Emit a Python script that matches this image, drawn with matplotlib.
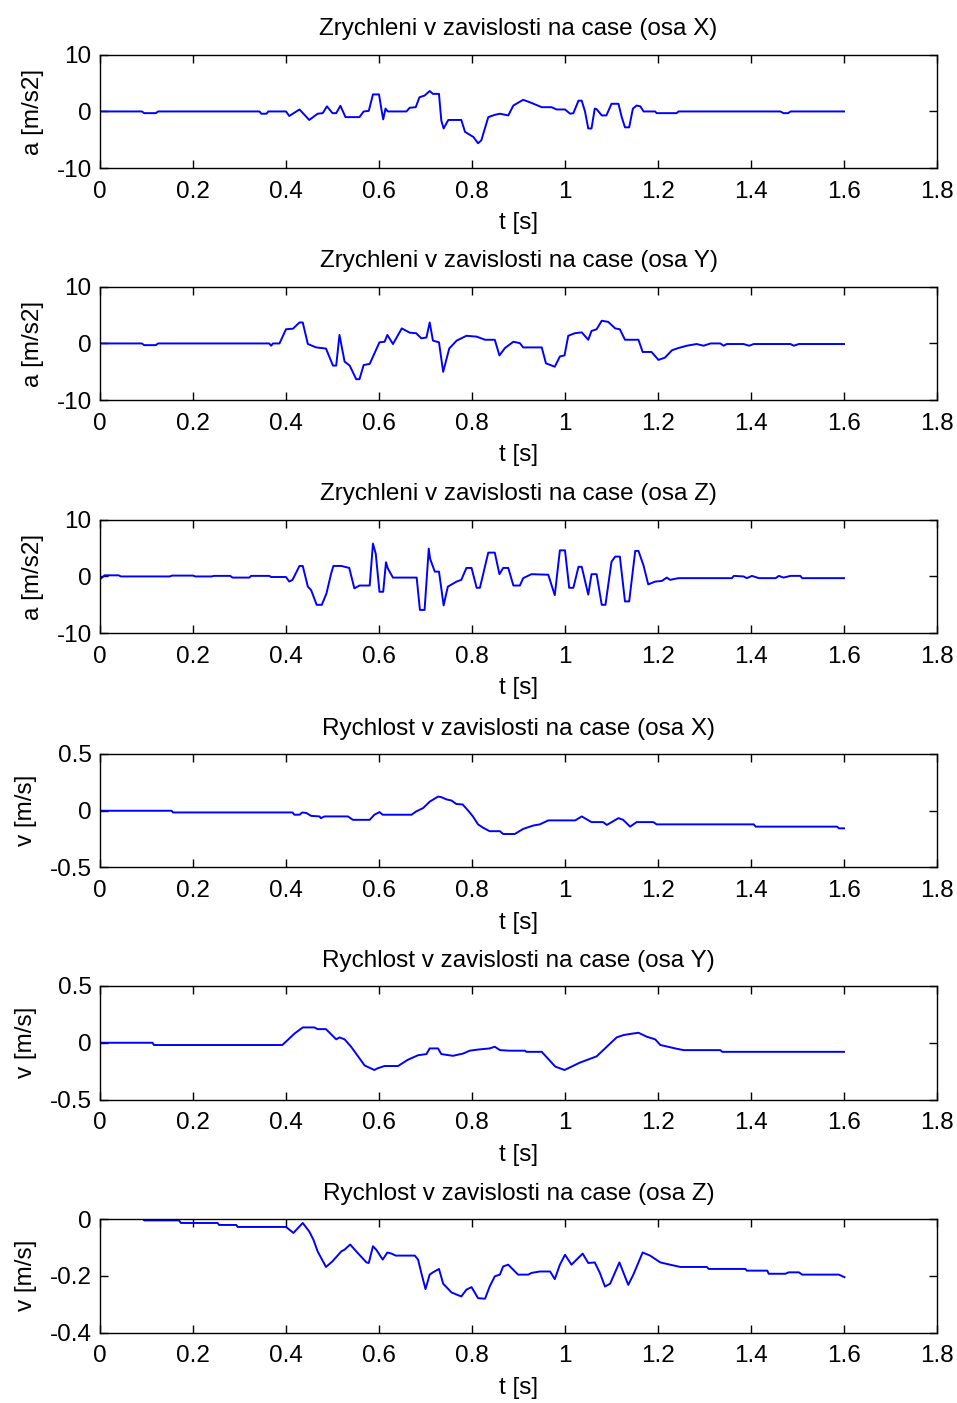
import matplotlib
matplotlib.use("Agg")
import matplotlib.pyplot as plt

plt.rcParams['font.family'] = ['Liberation Sans', 'DejaVu Sans']
plt.rcParams['axes.unicode_minus'] = False

# ---- acceleration, axis X ----
t_ax = [0, 0.09, 0.095, 0.12, 0.125, 0.343, 0.347, 0.358, 0.362, 0.400, 0.407, 0.429, 0.450, 0.468,
        0.479, 0.488, 0.500, 0.508, 0.517, 0.528, 0.558, 0.567, 0.578, 0.587, 0.600, 0.605, 0.609,
        0.614, 0.619, 0.659, 0.666, 0.679, 0.687, 0.698, 0.709, 0.716, 0.729, 0.734, 0.739, 0.749,
        0.777, 0.785, 0.803, 0.813, 0.820, 0.835, 0.849, 0.860, 0.878, 0.889, 0.910, 0.925, 0.950,
        0.971, 0.982, 1.000, 1.011, 1.018, 1.029, 1.036, 1.043, 1.050, 1.057, 1.064, 1.068, 1.079,
        1.089, 1.100, 1.115, 1.122, 1.129, 1.138, 1.146, 1.154, 1.162, 1.169, 1.194, 1.197, 1.240,
        1.244, 1.463, 1.470, 1.480, 1.485, 1.600]
a_x = [0, 0, -0.3, -0.3, 0, 0, -0.4, -0.4, 0, 0, -0.8, 0.35, -1.5, -0.4,
       -0.3, 0.9, -0.3, -0.3, 1.0, -1.0, -1.0, 0, 0.1, 3.0, 3.0, 0.5, -1.4,
       0.5, 0, 0, 0.65, 0.75, 2.5, 2.8, 3.6, 3.1, 3.1, -1.6, -3.0, -1.5,
       -1.5, -3.6, -4.5, -5.6, -5.1, -1.0, -0.6, -0.4, -0.7, 1.05, 2.05, 1.6, 0.75,
       0.75, 0.35, 0.35, -0.4, -0.3, 1.9, 1.9, 0.0, -3.0, -3.0, 0.5, 0.4, -0.7,
       -0.7, 1.35, 1.35, -1.0, -2.8, -2.8, 0.5, 1.05, 0.9, 0, 0, -0.3, -0.3,
       0, 0, -0.3, -0.3, 0, 0]

# ---- acceleration, axis Y ----
t_ay = [0, 0.09, 0.095, 0.12, 0.125, 0.364, 0.368, 0.372, 0.386, 0.400, 0.415, 0.429, 0.436, 0.447,
        0.465, 0.486, 0.501, 0.508, 0.515, 0.526, 0.537, 0.551, 0.558, 0.567, 0.580, 0.601, 0.612,
        0.618, 0.630, 0.649, 0.666, 0.680, 0.691, 0.702, 0.709, 0.716, 0.729, 0.738, 0.751, 0.767,
        0.788, 0.810, 0.828, 0.849, 0.859, 0.871, 0.889, 0.903, 0.910, 0.950, 0.959, 0.978, 0.989,
        0.999, 1.007, 1.021, 1.036, 1.050, 1.057, 1.068, 1.079, 1.093, 1.108, 1.118, 1.129, 1.158,
        1.167, 1.186, 1.201, 1.215, 1.230, 1.244, 1.262, 1.283, 1.298, 1.313, 1.334, 1.341, 1.348,
        1.384, 1.396, 1.406, 1.485, 1.492, 1.503, 1.600]
a_y = [0, 0, -0.3, -0.3, 0, 0, -0.4, 0, 0, 2.5, 2.6, 3.7, 3.7, -0.1,
       -0.7, -0.9, -3.9, -3.9, 1.5, -3.2, -3.9, -6.3, -6.3, -3.8, -3.6, 0.2, 0.3,
       1.5, -0.1, 2.65, 1.9, 1.8, 0.9, 1.05, 3.7, 0.5, 0.2, -5.0, -0.9, 0.5,
       1.35, 1.2, 0.65, 0.65, -2.1, -0.8, 0.3, 0.05, -0.7, -0.7, -3.5, -4.1, -2.3,
       -2.1, 1.35, 1.8, 1.95, 0.65, 2.2, 2.5, 4.0, 3.8, 2.65, 2.5, 0.65, 0.65,
       -1.5, -1.5, -2.9, -2.5, -1.2, -0.8, -0.4, -0.1, -0.4, 0, 0, -0.4, -0.1,
       -0.1, -0.4, -0.1, -0.1, -0.4, -0.1, -0.1]

# ---- acceleration, axis Z ----
t_az = [0, 0.01, 0.04, 0.045, 0.15, 0.155, 0.2, 0.205, 0.24, 0.245, 0.28, 0.285, 0.321, 0.325,
        0.364, 0.368, 0.400, 0.407, 0.414, 0.429, 0.436, 0.447, 0.454, 0.466, 0.477, 0.487, 0.497,
        0.502, 0.519, 0.536, 0.547, 0.558, 0.580, 0.587, 0.593, 0.601, 0.609, 0.615, 0.619, 0.630,
        0.681, 0.688, 0.698, 0.707, 0.710, 0.720, 0.729, 0.739, 0.748, 0.767, 0.777, 0.788, 0.799,
        0.810, 0.817, 0.835, 0.849, 0.859, 0.867, 0.878, 0.889, 0.903, 0.910, 0.928, 0.964, 0.978,
        0.989, 1.000, 1.009, 1.018, 1.029, 1.036, 1.050, 1.057, 1.068, 1.079, 1.087, 1.100, 1.108,
        1.118, 1.129, 1.138, 1.151, 1.158, 1.169, 1.179, 1.194, 1.208, 1.219, 1.226, 1.244, 1.359,
        1.363, 1.384, 1.391, 1.402, 1.417, 1.453, 1.460, 1.470, 1.485, 1.506, 1.510, 1.600]
a_z = [-0.5, 0.2, 0.2, 0, 0, 0.15, 0.15, 0, 0, 0.1, 0.1, -0.2, -0.2, 0.1,
       0.1, -0.1, -0.1, -0.9, -0.6, 1.85, 1.85, -1.8, -2.4, -5.0, -5.0, -3.0, 0.5,
       1.85, 1.85, 1.5, -2.1, -1.6, -1.6, 5.8, 4.0, -2.7, -2.7, 2.5, 1.4, -0.2,
       -0.2, -5.9, -5.9, 4.9, 3.1, 0.85, 0.85, -5.1, -1.8, -0.9, -0.6, 1.5, 1.5,
       -2.0, -2.0, 4.2, 4.2, 0.4, 1.5, 1.5, -1.6, -1.6, -0.3, 0.4, 0.3, -3.3,
       4.6, 4.6, -2.0, -2.0, 1.7, 1.7, -3.2, 0.4, 0.4, -5.0, -5.0, 2.6, 3.5,
       3.5, -4.4, -4.4, 4.5, 4.5, 1.9, -1.4, -0.9, -0.8, -0.2, -0.6, -0.3, -0.3,
       0.1, 0.0, -0.3, 0.1, -0.3, -0.3, 0.1, -0.2, 0.1, 0.1, -0.3, -0.3]

# ---- velocity, axis X ----
t_vx = [0, 0.154, 0.157, 0.414, 0.418, 0.429, 0.435, 0.444, 0.454, 0.472, 0.475, 0.483, 0.533,
        0.544, 0.580, 0.590, 0.601, 0.608, 0.670, 0.680, 0.695, 0.709, 0.727, 0.734, 0.745, 0.756,
        0.766, 0.780, 0.792, 0.802, 0.813, 0.824, 0.838, 0.860, 0.867, 0.892, 0.910, 0.932, 0.946,
        0.964, 1.022, 1.036, 1.057, 1.082, 1.090, 1.115, 1.125, 1.140, 1.154, 1.190, 1.197, 1.406,
        1.410, 1.585, 1.589, 1.600]
v_x = [0, 0, -0.015, -0.015, -0.035, -0.035, -0.015, -0.02, -0.045, -0.05, -0.065, -0.05, -0.05,
       -0.08, -0.08, -0.035, -0.012, -0.035, -0.035, -0.006, 0.024, 0.08, 0.125, 0.12, 0.1, 0.09,
       0.06, 0.055, 0, -0.05, -0.12, -0.15, -0.18, -0.18, -0.205, -0.205, -0.16, -0.13, -0.12,
       -0.085, -0.085, -0.05, -0.1, -0.1, -0.125, -0.065, -0.08, -0.14, -0.1, -0.1, -0.12, -0.12,
       -0.14, -0.14, -0.155, -0.155]

# ---- velocity, axis Y ----
t_vy = [0, 0.113, 0.116, 0.392, 0.400, 0.418, 0.436, 0.461, 0.468, 0.486, 0.508, 0.515, 0.526,
        0.540, 0.555, 0.569, 0.590, 0.597, 0.612, 0.641, 0.662, 0.684, 0.702, 0.709, 0.727, 0.734,
        0.759, 0.781, 0.795, 0.813, 0.838, 0.849, 0.860, 0.881, 0.914, 0.917, 0.950, 0.979, 0.999,
        1.032, 1.068, 1.111, 1.126, 1.144, 1.158, 1.176, 1.194, 1.205, 1.216, 1.237, 1.255, 1.334,
        1.338, 1.600]
v_y = [0, 0, -0.02, -0.02, 0.01, 0.08, 0.135, 0.135, 0.12, 0.12, 0.03, 0.047, 0.03,
       -0.035, -0.12, -0.2, -0.24, -0.225, -0.205, -0.205, -0.15, -0.11, -0.1, -0.05, -0.05, -0.1,
       -0.115, -0.095, -0.07, -0.06, -0.05, -0.035, -0.065, -0.07, -0.07, -0.08, -0.08, -0.21, -0.24,
       -0.175, -0.12, 0.047, 0.068, 0.08, 0.088, 0.053, 0.03, -0.02, -0.03, -0.05, -0.065, -0.065,
       -0.08, -0.08]

# ---- velocity, axis Z ----
t_vz = [0, 0.09, 0.095, 0.170, 0.174, 0.253, 0.256, 0.293, 0.296, 0.400, 0.416, 0.436, 0.450,
        0.459, 0.468, 0.486, 0.500, 0.519, 0.526, 0.538, 0.551, 0.573, 0.578, 0.587, 0.594, 0.608,
        0.618, 0.627, 0.636, 0.677, 0.684, 0.691, 0.700, 0.709, 0.716, 0.729, 0.738, 0.756, 0.777,
        0.788, 0.799, 0.813, 0.828, 0.838, 0.849, 0.860, 0.867, 0.878, 0.899, 0.921, 0.928, 0.946,
        0.968, 0.978, 0.989, 1.000, 1.014, 1.038, 1.050, 1.064, 1.075, 1.086, 1.097, 1.117, 1.136,
        1.147, 1.167, 1.183, 1.205, 1.226, 1.248, 1.305, 1.309, 1.388, 1.391, 1.435, 1.438, 1.474,
        1.481, 1.503, 1.510, 1.589, 1.601]
v_z = [0.004, 0.004, -0.005, -0.005, -0.014, -0.014, -0.021, -0.021, -0.028, -0.028, -0.049, -0.014, -0.044,
       -0.073, -0.114, -0.169, -0.149, -0.114, -0.108, -0.09, -0.114, -0.153, -0.155, -0.096, -0.108, -0.143,
       -0.118, -0.122, -0.129, -0.129, -0.143, -0.19, -0.247, -0.196, -0.188, -0.176, -0.228, -0.259, -0.273,
       -0.249, -0.24, -0.279, -0.281, -0.238, -0.202, -0.196, -0.167, -0.161, -0.196, -0.196, -0.19, -0.185,
       -0.185, -0.212, -0.161, -0.126, -0.161, -0.122, -0.155, -0.153, -0.19, -0.238, -0.228, -0.153, -0.232,
       -0.196, -0.118, -0.129, -0.153, -0.161, -0.169, -0.169, -0.176, -0.176, -0.182, -0.182, -0.193, -0.193,
       -0.188, -0.188, -0.196, -0.196, -0.205]

x_ticks = [0, 0.2, 0.4, 0.6, 0.8, 1.0, 1.2, 1.4, 1.6, 1.8]
x_tick_labels = ['0', '0.2', '0.4', '0.6', '0.8', '1', '1.2', '1.4', '1.6', '1.8']

titles = [
    'Zrychleni v zavislosti na case (osa X)',
    'Zrychleni v zavislosti na case (osa Y)',
    'Zrychleni v zavislosti na case (osa Z)',
    'Rychlost v zavislosti na case (osa X)',
    'Rychlost v zavislosti na case (osa Y)',
    'Rychlost v zavislosti na case (osa Z)',
]
y_labels = ['a [m/s2]', 'a [m/s2]', 'a [m/s2]', 'v [m/s]', 'v [m/s]', 'v [m/s]']
y_limits = [(-10, 10), (-10, 10), (-10, 10), (-0.5, 0.5), (-0.5, 0.5), (-0.4, 0)]
y_ticks = [[-10, 0, 10], [-10, 0, 10], [-10, 0, 10], [-0.5, 0, 0.5], [-0.5, 0, 0.5], [-0.4, -0.2, 0]]
y_tick_labels = [['-10', '0', '10'], ['-10', '0', '10'], ['-10', '0', '10'],
                 ['-0.5', '0', '0.5'], ['-0.5', '0', '0.5'], ['-0.4', '-0.2', '0']]
series = [(t_ax, a_x), (t_ay, a_y), (t_az, a_z), (t_vx, v_x), (t_vy, v_y), (t_vz, v_z)]

W, H = 957, 1403
fig = plt.figure(figsize=(W / 100, H / 100), dpi=100)
fig.patch.set_facecolor('white')

left_px, right_px = 100, 937
tops_px = [54.7, 286.7, 519.7, 754.0, 986.0, 1219.0]
height_px = 113.5
FS = 17.5

for i in range(6):
    top = tops_px[i]
    ax = fig.add_axes([left_px / W, 1 - (top + height_px) / H,
                       (right_px - left_px) / W, height_px / H])
    t, v = series[i]
    ax.plot(t, v, color='#0000ff', linewidth=1.4)
    ax.set_xlim(0, 1.8)
    ax.set_ylim(*y_limits[i])
    ax.set_xticks(x_ticks)
    ax.set_xticklabels(x_tick_labels)
    ax.set_yticks(y_ticks[i])
    ax.set_yticklabels(y_tick_labels[i])
    ax.tick_params(direction='in', top=True, right=True, length=5.5, width=1.0,
                   labelsize=FS, colors='black')
    ax.tick_params(axis='x', pad=9)
    ax.tick_params(axis='y', pad=6)
    for s in ax.spines.values():
        s.set_linewidth(1.0)
        s.set_color('black')
    ax.set_title(titles[i], fontsize=FS, pad=14)
    ax.set_xlabel('t [s]', fontsize=FS, labelpad=7)
    ax.set_ylabel(y_labels[i], fontsize=FS, labelpad=9)

fig.savefig('out.png', dpi=100, facecolor='white')
